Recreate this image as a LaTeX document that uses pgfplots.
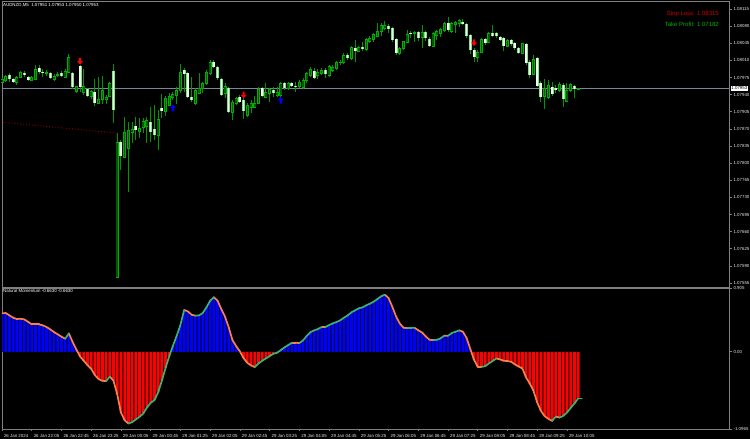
\documentclass[border=0pt]{standalone}
\usepackage{pgfplots}
\pgfplotsset{compat=1.18}
\usepackage{pgfplotstable}
\usepackage{fontspec}
\setmainfont{Liberation Sans}
\definecolor{wick}{RGB}{0,150,0}
\definecolor{bullfill}{RGB}{0,90,0}
\definecolor{bullbord}{RGB}{0,175,0}
\definecolor{bearfill}{RGB}{235,255,235}
\definecolor{bearbord}{RGB}{130,225,130}
\definecolor{frame}{RGB}{128,128,128}
\definecolor{pline}{RGB}{119,136,153}
\definecolor{dotcol}{RGB}{150,0,0}
\definecolor{slcol}{RGB}{205,0,0}
\definecolor{tpcol}{RGB}{0,175,0}
\definecolor{histblue}{RGB}{0,0,255}
\definecolor{histred}{RGB}{255,0,0}
\definecolor{linor}{RGB}{250,128,72}
\definecolor{lingr}{RGB}{60,179,113}
\newcommand\tf{\fontsize{4.4}{5}\selectfont}
\pgfdeclareplotmark{sigdn}{%
 \pgfpathmoveto{\pgfqpoint{-1.1pt}{3.5pt}}%
 \pgfpathlineto{\pgfqpoint{1.1pt}{3.5pt}}%
 \pgfpathlineto{\pgfqpoint{1.1pt}{0.3pt}}%
 \pgfpathlineto{\pgfqpoint{3pt}{0.3pt}}%
 \pgfpathlineto{\pgfqpoint{0pt}{-3.2pt}}%
 \pgfpathlineto{\pgfqpoint{-3pt}{0.3pt}}%
 \pgfpathlineto{\pgfqpoint{-1.1pt}{0.3pt}}%
 \pgfpathclose\pgfusepathqfill}
\pgfdeclareplotmark{sigup}{%
 \pgfpathmoveto{\pgfqpoint{-1.1pt}{-3.5pt}}%
 \pgfpathlineto{\pgfqpoint{1.1pt}{-3.5pt}}%
 \pgfpathlineto{\pgfqpoint{1.1pt}{-0.3pt}}%
 \pgfpathlineto{\pgfqpoint{3pt}{-0.3pt}}%
 \pgfpathlineto{\pgfqpoint{0pt}{3.2pt}}%
 \pgfpathlineto{\pgfqpoint{-3pt}{-0.3pt}}%
 \pgfpathlineto{\pgfqpoint{-1.1pt}{-0.3pt}}%
 \pgfpathclose\pgfusepathqfill}
% AUDNZD M5 candles, prices in points above 1.07000 (o h l c)
\pgfplotstableread{
i o h l c
0 966 974 964 972
1 970 980 966 978
2 980 984 966 972
3 972 974 964 966
4 966 978 960 976
5 976 988 974 986
6 984 988 976 980
7 976 978 968 970
8 970 978 968 976
9 972 1001 970 992
10 994 1000 982 986
11 986 992 976 984
12 984 990 978 986
13 984 986 972 974
14 972 982 968 978
15 980 986 976 982
16 984 988 976 978
17 976 992 974 988
18 986 1023 984 1017
19 984 986 952 956
20 947 958 943 956
21 998 1000 945 956
22 945 992 939 956
23 952 954 935 937
24 937 949 931 947
25 945 972 917 923
26 923 976 921 931
27 931 978 921 949
28 931 939 921 935
29 937 966 935 964
30 988 1003 882 909
31 567 862 565 843
32 843 847 786 815
33 812 894 810 862
34 831 884 741 868
35 862 884 841 870
36 876 894 847 868
37 864 892 851 872
38 874 892 862 886
39 876 894 841 888
40 884 915 843 864
41 870 919 847 857
42 857 909 827 890
43 913 941 892 907
44 905 937 896 933
45 919 943 917 937
46 935 945 929 941
47 939 956 921 949
48 949 1003 943 986
49 990 994 945 982
50 984 986 933 935
51 935 976 925 929
52 923 953 919 949
53 943 984 943 953
54 953 966 943 964
55 964 990 960 986
56 984 1011 980 1007
57 1007 1011 994 996
58 996 998 970 974
59 972 974 937 939
60 943 964 933 956
61 953 956 902 904
62 904 929 888 925
63 923 935 919 933
64 935 939 923 925
65 929 935 890 906
66 898 923 894 919
67 915 929 902 923
68 915 937 913 923
69 923 956 921 951
70 953 956 935 937
71 935 964 933 945
72 943 953 925 951
73 949 956 935 943
74 939 956 935 945
75 939 966 935 964
76 964 966 949 953
77 953 966 949 964
78 964 966 956 958
79 958 966 945 956
80 956 970 954 966
81 954 974 952 970
82 970 986 964 984
83 980 996 976 992
84 988 994 972 974
85 980 992 972 986
86 984 994 980 990
87 990 994 974 982
88 980 1000 976 998
89 990 1000 986 996
90 994 1009 990 1005
91 1005 1011 1000 1007
92 1005 1025 1003 1021
93 1021 1025 1011 1015
94 1015 1039 1011 1037
95 1035 1052 1007 1029
96 1029 1039 1027 1037
97 1037 1048 1029 1033
98 1033 1056 1029 1052
99 1048 1060 1046 1056
100 1052 1066 1048 1064
101 1060 1086 1058 1070
102 1070 1086 1060 1082
103 1076 1091 1072 1082
104 1080 1084 1066 1074
105 1076 1078 1048 1052
106 1054 1056 1021 1025
107 1025 1037 1021 1035
108 1035 1050 1031 1048
109 1046 1072 1046 1064
110 1066 1070 1056 1064
111 1066 1070 1048 1068
112 1068 1070 1050 1056
113 1058 1082 1035 1068
114 1068 1070 1050 1056
115 1054 1058 1037 1039
116 1039 1068 1037 1066
117 1062 1072 1052 1070
118 1066 1076 1058 1074
119 1072 1088 1068 1086
120 1086 1099 1068 1072
121 1070 1088 1066 1086
122 1084 1091 1066 1088
123 1086 1095 1078 1091
124 1088 1095 1082 1084
125 1084 1086 1056 1060
126 1062 1064 1023 1031
127 1031 1035 1007 1017
128 1017 1031 1007 1027
129 1027 1056 1025 1054
130 1054 1056 1041 1046
131 1046 1068 1046 1066
132 1066 1082 1058 1060
133 1066 1068 1056 1060
134 1058 1060 1050 1052
135 1056 1058 1029 1039
136 1039 1054 1037 1050
137 1052 1054 1039 1044
138 1046 1048 1031 1035
139 1035 1037 1023 1025
140 1025 1046 1025 1044
141 1044 1046 1000 1005
142 1007 1011 974 980
143 982 1021 980 1013
144 1015 1017 956 958
145 964 968 925 935
146 937 972 911 953
147 935 970 931 958
148 956 966 937 941
149 953 960 943 949
150 949 966 945 960
151 960 964 915 931
152 927 964 925 949
153 949 964 945 960
154 958 960 933 951
155 951 953 950 953
}\candles
% Natural Momentum: v = value, n = value of the next bar, g = 1 where the line rises
\pgfplotstableread{
i v g n
0 0.545 0 0.550
1 0.550 0 0.516
2 0.516 0 0.484
3 0.484 0 0.464
4 0.464 0 0.469
5 0.469 0 0.459
6 0.459 0 0.426
7 0.426 0 0.389
8 0.389 0 0.389
9 0.389 0 0.389
10 0.389 0 0.374
11 0.374 0 0.351
12 0.351 0 0.317
13 0.317 0 0.279
14 0.279 0 0.247
15 0.247 0 0.214
16 0.214 0 0.185
17 0.185 1 0.261
18 0.261 0 0.137
19 0.137 0 0.033
20 0.033 0 -0.067
21 -0.067 0 -0.128
22 -0.128 0 -0.190
23 -0.190 0 -0.242
24 -0.242 0 -0.332
25 -0.332 0 -0.389
26 -0.389 0 -0.412
27 -0.412 0 -0.417
28 -0.417 1 -0.351
29 -0.351 0 -0.412
30 -0.412 0 -0.602
31 -0.602 0 -0.863
32 -0.863 0 -0.972
33 -0.972 0 -1.019
34 -1.019 1 -1.000
35 -1.000 1 -0.962
36 -0.962 1 -0.924
37 -0.924 1 -0.877
38 -0.877 1 -0.792
39 -0.792 1 -0.725
40 -0.725 1 -0.688
41 -0.688 1 -0.578
42 -0.578 1 -0.412
43 -0.412 1 -0.232
44 -0.232 1 -0.062
45 -0.062 1 0.085
46 0.085 1 0.227
47 0.227 1 0.379
48 0.379 1 0.593
49 0.593 0 0.573
50 0.573 0 0.526
51 0.526 0 0.512
52 0.512 1 0.516
53 0.516 1 0.550
54 0.550 1 0.630
55 0.630 1 0.725
56 0.725 1 0.773
57 0.773 0 0.725
58 0.725 0 0.606
59 0.606 0 0.498
60 0.498 0 0.346
61 0.346 0 0.166
62 0.166 0 0.080
63 0.080 0 0.005
64 0.005 0 -0.090
65 -0.090 0 -0.157
66 -0.157 0 -0.194
67 -0.194 0 -0.218
68 -0.218 1 -0.166
69 -0.166 1 -0.128
70 -0.128 1 -0.095
71 -0.095 1 -0.062
72 -0.062 1 -0.028
73 -0.028 1 -0.015
74 -0.015 1 0.024
75 0.024 1 0.062
76 0.062 1 0.095
77 0.095 1 0.128
78 0.128 0 0.128
79 0.128 0 0.123
80 0.123 1 0.161
81 0.161 1 0.227
82 0.227 1 0.279
83 0.279 1 0.304
84 0.304 1 0.322
85 0.322 1 0.351
86 0.351 0 0.350
87 0.350 1 0.379
88 0.379 1 0.403
89 0.403 1 0.422
90 0.422 1 0.446
91 0.446 1 0.484
92 0.484 1 0.516
93 0.516 1 0.559
94 0.559 1 0.588
95 0.588 1 0.616
96 0.616 1 0.630
97 0.630 1 0.659
98 0.659 1 0.683
99 0.683 1 0.711
100 0.711 1 0.749
101 0.749 1 0.787
102 0.787 1 0.810
103 0.810 0 0.763
104 0.763 0 0.640
105 0.640 0 0.503
106 0.503 0 0.403
107 0.403 0 0.341
108 0.341 0 0.336
109 0.336 1 0.338
110 0.338 1 0.340
111 0.340 0 0.304
112 0.304 0 0.275
113 0.275 0 0.218
114 0.218 0 0.170
115 0.170 0 0.166
116 0.166 1 0.170
117 0.170 1 0.190
118 0.190 1 0.229
119 0.229 0 0.227
120 0.227 1 0.266
121 0.266 1 0.284
122 0.284 1 0.304
123 0.304 0 0.284
124 0.284 0 0.194
125 0.194 0 0.038
126 0.038 0 -0.114
127 -0.114 0 -0.214
128 -0.214 0 -0.214
129 -0.214 1 -0.204
130 -0.204 1 -0.166
131 -0.166 1 -0.132
132 -0.132 1 -0.095
133 -0.095 0 -0.109
134 -0.109 0 -0.128
135 -0.128 0 -0.132
136 -0.132 0 -0.142
137 -0.142 0 -0.180
138 -0.180 0 -0.209
139 -0.209 0 -0.237
140 -0.237 0 -0.365
141 -0.365 0 -0.451
142 -0.451 0 -0.555
143 -0.555 0 -0.720
144 -0.720 0 -0.839
145 -0.839 0 -0.915
146 -0.915 0 -0.952
147 -0.952 0 -0.982
148 -0.982 1 -0.920
149 -0.920 0 -0.935
150 -0.935 1 -0.910
151 -0.910 1 -0.863
152 -0.863 1 -0.797
153 -0.797 1 -0.735
154 -0.735 1 -0.663
155 -0.663 1 -0.663
}\mom
\begin{document}
\begin{tikzpicture}[x=1pt,y=1pt]
\fill[black] (0,0) rectangle (750,439);
% ---------- price panel ----------
\begin{axis}[
  at={(2pt,152pt)}, anchor=south west, scale only axis,
  width=727pt, height=286pt,
  xmin=0, xmax=195.59, ymin=546.8, ymax=1131.4,
  axis line style={draw=frame, line width=0.8pt},
  xtick=\empty,
  ytick={555,590,...,1115},
  yticklabels={1.07555,1.07590,1.07625,1.07660,1.07695,1.07730,1.07765,1.07800,1.07835,1.07870,1.07905,1.07940,1.07975,1.08010,1.08045,1.08080,1.08115},
  ytick pos=right, yticklabel pos=right,
  tick align=outside, major tick length=2.5pt,
  tick style={draw=frame, line width=0.6pt},
  yticklabel style={font=\tf, text=white!90!black, xshift=-1.5pt},
]
\addplot[pline, line width=0.8pt] coordinates {(0,953) (195.59,953)};
\addplot[dotcol, dotted, line width=0.9pt] coordinates {(-0.54,884) (30.9,861.5)};
% wicks
\addplot[wick, line width=1pt, quiver={u=0, v=\thisrow{h}-\thisrow{l}}] table[x=i, y=l] {\candles};
% bull bodies
\addplot[bullbord, line width=3pt, quiver={u=0, v=\thisrow{c}-\thisrow{o}},
  restrict expr to domain={\thisrow{c}-\thisrow{o}}{0:2000}] table[x=i, y=o] {\candles};
\addplot[bullfill, line width=1.5pt, quiver={u=0, v=\thisrow{c}-\thisrow{o}},
  restrict expr to domain={\thisrow{c}-\thisrow{o}}{0:2000}] table[x=i, y=o] {\candles};
\addplot[bullbord, only marks, mark=-, mark size=1.5pt, mark options={line width=0.7pt},
  restrict expr to domain={\thisrow{c}-\thisrow{o}}{0:2000}] table[x=i, y=o] {\candles};
\addplot[bullbord, only marks, mark=-, mark size=1.5pt, mark options={line width=0.7pt},
  restrict expr to domain={\thisrow{c}-\thisrow{o}}{0:2000}] table[x=i, y=c] {\candles};
% bear bodies
\addplot[bearbord, line width=3pt, quiver={u=0, v=\thisrow{c}-\thisrow{o}},
  restrict expr to domain={\thisrow{c}-\thisrow{o}}{-2000:-0.5}] table[x=i, y=o] {\candles};
\addplot[bearfill, line width=1.5pt, quiver={u=0, v=\thisrow{c}-\thisrow{o}},
  restrict expr to domain={\thisrow{c}-\thisrow{o}}{-2000:-0.5}] table[x=i, y=o] {\candles};
% signal arrows
\addplot[only marks, mark=sigdn, red, mark options={fill=red}] coordinates {(21,1008) (65,939) (127,1046)};
\addplot[only marks, mark=sigup, blue, mark options={fill=blue}] coordinates {(46,913) (75,929)};
\end{axis}
% ---------- indicator panel ----------
\begin{axis}[
  at={(2pt,10pt)}, anchor=south west, scale only axis,
  width=727pt, height=141pt,
  xmin=0, xmax=195.59, ymin=-1.0965, ymax=0.905,
  axis line style={draw=frame, line width=0.8pt},
  xtick={0,8,...,152},
  xticklabels={26 Jan 2024,26 Jan 22:05,26 Jan 22:45,26 Jan 23:25,29 Jan 00:05,29 Jan 00:45,29 Jan 01:25,29 Jan 02:05,29 Jan 02:45,29 Jan 03:25,29 Jan 04:05,29 Jan 04:45,29 Jan 05:25,29 Jan 06:05,29 Jan 06:45,29 Jan 07:25,29 Jan 08:05,29 Jan 08:45,29 Jan 09:25,29 Jan 10:05},
  xtick pos=bottom,
  ytick={-1.0965,0,0.905}, yticklabels={-1.0965,0.00,0.905},
  ytick pos=right, yticklabel pos=right,
  tick align=outside, major tick length=2.5pt,
  tick style={draw=frame, line width=0.6pt},
  yticklabel style={font=\tf, text=white!90!black, xshift=-1.5pt},
  xticklabel style={font=\tf, text=white!90!black, anchor=north west, xshift=-1.5pt, yshift=1pt},
]
\addplot[ybar, bar width=2.8pt, bar shift=0pt, fill=histblue, draw=none,
  restrict y to domain=0:5] table[x=i, y=v] {\mom};
\addplot[ybar, bar width=2.8pt, bar shift=0pt, fill=histred, draw=none,
  restrict y to domain=-5:0] table[x=i, y=v] {\mom};
% falling segments (orange) and rising segments (green)
\addplot[linor, line width=1.7pt, line cap=round, quiver={u=1, v=\thisrow{n}-\thisrow{v}},
  restrict expr to domain={\thisrow{g}}{-0.5:0.5}] table[x=i, y=v] {\mom};
\addplot[lingr, line width=1.7pt, line cap=round, quiver={u=1, v=\thisrow{n}-\thisrow{v}},
  restrict expr to domain={\thisrow{g}}{0.5:1.5}] table[x=i, y=v] {\mom};
\end{axis}
% ---------- texts ----------
\node[anchor=west, inner sep=0pt, font=\tf, text=white] at (3,434) {AUDNZD,M5\ \ 1.07951 1.07953 1.07950 1.07953};
\node[anchor=east, inner sep=0pt, font=\fontsize{6}{7}\selectfont, text=slcol] at (719,424.7) {Stop Loss: 1.08315};
\node[anchor=east, inner sep=0pt, font=\fontsize{6}{7}\selectfont, text=tpcol] at (719,415) {Take Profit: 1.07182};
\node[anchor=west, inner sep=0pt, font=\tf, text=white] at (3,148) {Natural Momentum -0.6630 -0.6630};
\node[anchor=west, fill=white, text=black, inner sep=0.7pt, font=\tf] at (730.5,350.7) {1.07953};
\pgfresetboundingbox
\useasboundingbox (0,0) rectangle (750,439);
\end{tikzpicture}
\end{document}
